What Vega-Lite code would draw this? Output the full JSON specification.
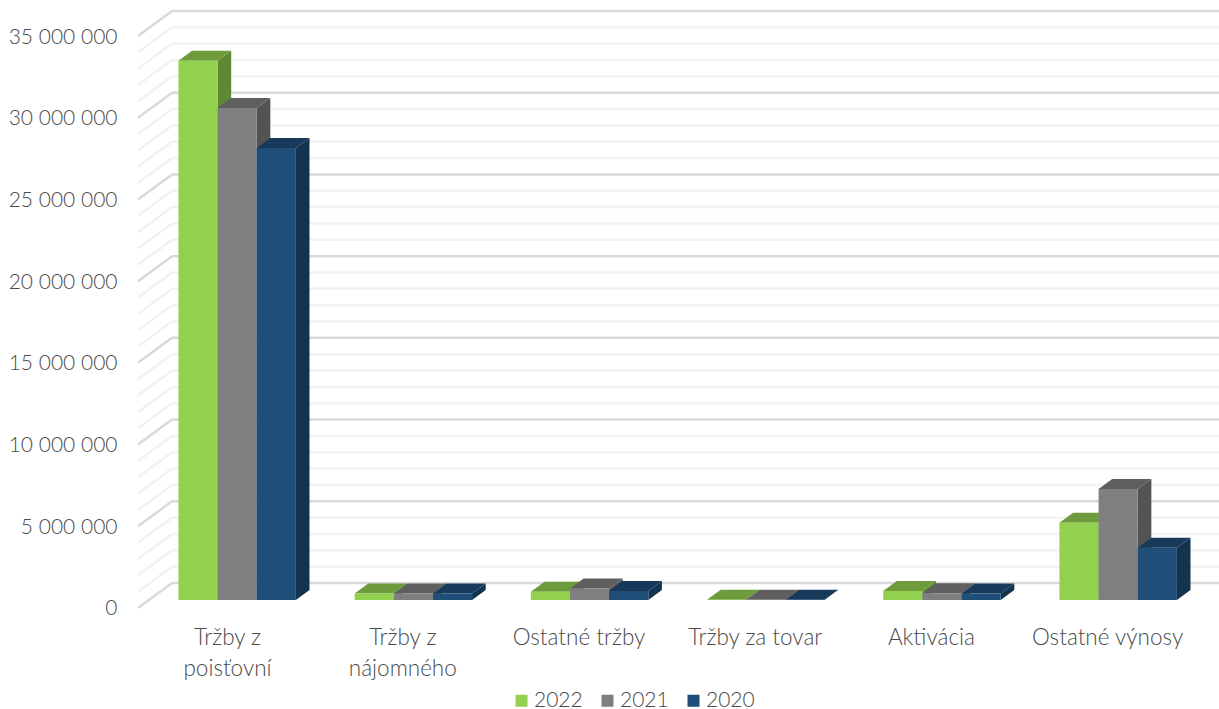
{"$schema":"https://vega.github.io/schema/vega-lite/v6.json","width":1081,"height":609,"padding":{"left":138,"top":11,"right":0,"bottom":89},"autosize":{"type":"none"},"background":"white","config":{"view":{"stroke":null},"text":{"font":"Lato"}},"datasets":{"bars":[{"category":"Tržby z poisťovní","year":"2022","value":33000000},{"category":"Tržby z poisťovní","year":"2021","value":30100000},{"category":"Tržby z poisťovní","year":"2020","value":27660000},{"category":"Tržby z nájomného","year":"2022","value":400000},{"category":"Tržby z nájomného","year":"2021","value":400000},{"category":"Tržby z nájomného","year":"2020","value":400000},{"category":"Ostatné tržby","year":"2022","value":500000},{"category":"Ostatné tržby","year":"2021","value":710000},{"category":"Ostatné tržby","year":"2020","value":550000},{"category":"Tržby za tovar","year":"2022","value":20000},{"category":"Tržby za tovar","year":"2021","value":20000},{"category":"Tržby za tovar","year":"2020","value":20000},{"category":"Aktivácia","year":"2022","value":550000},{"category":"Aktivácia","year":"2021","value":420000},{"category":"Aktivácia","year":"2020","value":400000},{"category":"Ostatné výnosy","year":"2022","value":4730000},{"category":"Ostatné výnosy","year":"2021","value":6790000},{"category":"Ostatné výnosy","year":"2020","value":3200000}],"levels":[{"level":1000000},{"level":2000000},{"level":3000000},{"level":4000000},{"level":6000000},{"level":7000000},{"level":8000000},{"level":9000000},{"level":11000000},{"level":12000000},{"level":13000000},{"level":14000000},{"level":16000000},{"level":17000000},{"level":18000000},{"level":19000000},{"level":21000000},{"level":22000000},{"level":23000000},{"level":24000000},{"level":26000000},{"level":27000000},{"level":28000000},{"level":29000000},{"level":31000000},{"level":32000000},{"level":33000000},{"level":34000000},{"level":0},{"level":5000000},{"level":10000000},{"level":15000000},{"level":20000000},{"level":25000000},{"level":30000000},{"level":35000000}]},"data":{"name":"bars"},"transform":[{"calculate":"indexof(['Tržby z poisťovní','Tržby z nájomného','Ostatné tržby','Tržby za tovar','Aktivácia','Ostatné výnosy'],datum.category)","as":"i"},{"calculate":"indexof(['2022','2021','2020'],datum.year)","as":"s"},{"calculate":"[0.32,0.72]","as":"d"},{"flatten":["d"]},{"calculate":"datum.i+0.1677+datum.s*0.2222+datum.d*0.193","as":"xl"},{"calculate":"datum.xl+0.2222","as":"xr"},{"calculate":"datum.value-(1-datum.d)*1530000","as":"yt"},{"calculate":"-(1-datum.d)*1530000","as":"yb"},{"calculate":"datum.category+datum.year","as":"bar"},{"calculate":"datum.year+' side'","as":"sideKey"},{"calculate":"datum.year+' top'","as":"topKey"}],"layer":[{"data":{"name":"levels"},"transform":[{"calculate":"datum.level%5000000==0?'major':'minor'","as":"kind"}],"mark":{"type":"rule","strokeWidth":2.5},"encoding":{"x":{"datum":0.193,"type":"quantitative","scale":{"domain":[0,6.135],"nice":false,"zero":false},"title":null,"axis":{"values":[0.505,1.5,2.5,3.5,4.5,5.5],"grid":false,"domain":false,"ticks":false,"title":null,"labelExpr":"datum.value<1?['Tržby z','poisťovní']:datum.value<2?['Tržby z','nájomného']:datum.value<3?'Ostatné tržby':datum.value<4?'Tržby za tovar':datum.value<5?'Aktivácia':'Ostatné výnosy'","labelFont":"Lato","labelFontSize":22.5,"labelFontWeight":300,"labelColor":"#4A4A4A","labelPadding":6,"labelLineHeight":31,"labelOverlap":false,"labelFlush":false,"labelBaseline":"top"}},"x2":{"datum":6.135},"y":{"field":"level","type":"quantitative","scale":{"domain":[-2264000,35000000],"nice":false,"zero":false},"title":null,"axis":{"values":[0,5000000,10000000,15000000,20000000,25000000,30000000,35000000],"grid":false,"domain":false,"ticks":false,"title":null,"labelExpr":"replace(format(datum.value,','),regexp(',','g'),' ')","labelFont":"Lato","labelFontSize":21,"labelFontWeight":300,"labelColor":"#4A4A4A","labelPadding":21,"labelOffset":26}},"color":{"field":"kind","type":"nominal","scale":{"domain":["2022","2021","2020","2022 side","2021 side","2020 side","2022 top","2021 top","2020 top","major","minor"],"range":["#92D050","#7F7F7F","#1F4E79","#5F8734","#535353","#14334F","#6E9C3C","#5F5F5F","#173A5B","#D9D9D9","#F2F2F2"]},"legend":{"values":["2022","2021","2020"],"orient":"none","legendX":373,"legendY":679,"direction":"horizontal","columns":3,"title":null,"symbolType":"square","symbolSize":144,"symbolStrokeWidth":0,"labelFont":"Lato","labelFontSize":21,"labelFontWeight":300,"labelColor":"#4A4A4A","columnPadding":14,"labelOffset":2}}}},{"data":{"name":"levels"},"transform":[{"calculate":"datum.level%5000000==0?'major':'minor'","as":"kind"},{"calculate":"[0,1]","as":"d"},{"flatten":["d"]},{"calculate":"datum.d*0.193","as":"xd"},{"calculate":"datum.level-(1-datum.d)*1530000","as":"yd"},{"calculate":"''+datum.level","as":"lv"}],"mark":{"type":"line","strokeWidth":2.5},"encoding":{"x":{"field":"xd","type":"quantitative"},"y":{"field":"yd","type":"quantitative"},"color":{"field":"kind","type":"nominal"},"detail":{"field":"lv"}}},{"mark":{"type":"area","orient":"vertical"},"encoding":{"x":{"field":"xr","type":"quantitative"},"y":{"field":"yt","type":"quantitative","stack":null},"y2":{"field":"yb"},"color":{"field":"sideKey","type":"nominal"},"detail":{"field":"bar"}}},{"mark":{"type":"area","orient":"horizontal"},"encoding":{"y":{"field":"yt","type":"quantitative"},"x":{"field":"xl","type":"quantitative","stack":null},"x2":{"field":"xr"},"color":{"field":"topKey","type":"nominal"},"detail":{"field":"bar"}}},{"transform":[{"filter":"datum.d==0.32"}],"mark":{"type":"rect"},"encoding":{"x":{"field":"xl","type":"quantitative"},"x2":{"field":"xr"},"y":{"field":"yt","type":"quantitative"},"y2":{"field":"yb"},"color":{"field":"year","type":"nominal"}}}]}
